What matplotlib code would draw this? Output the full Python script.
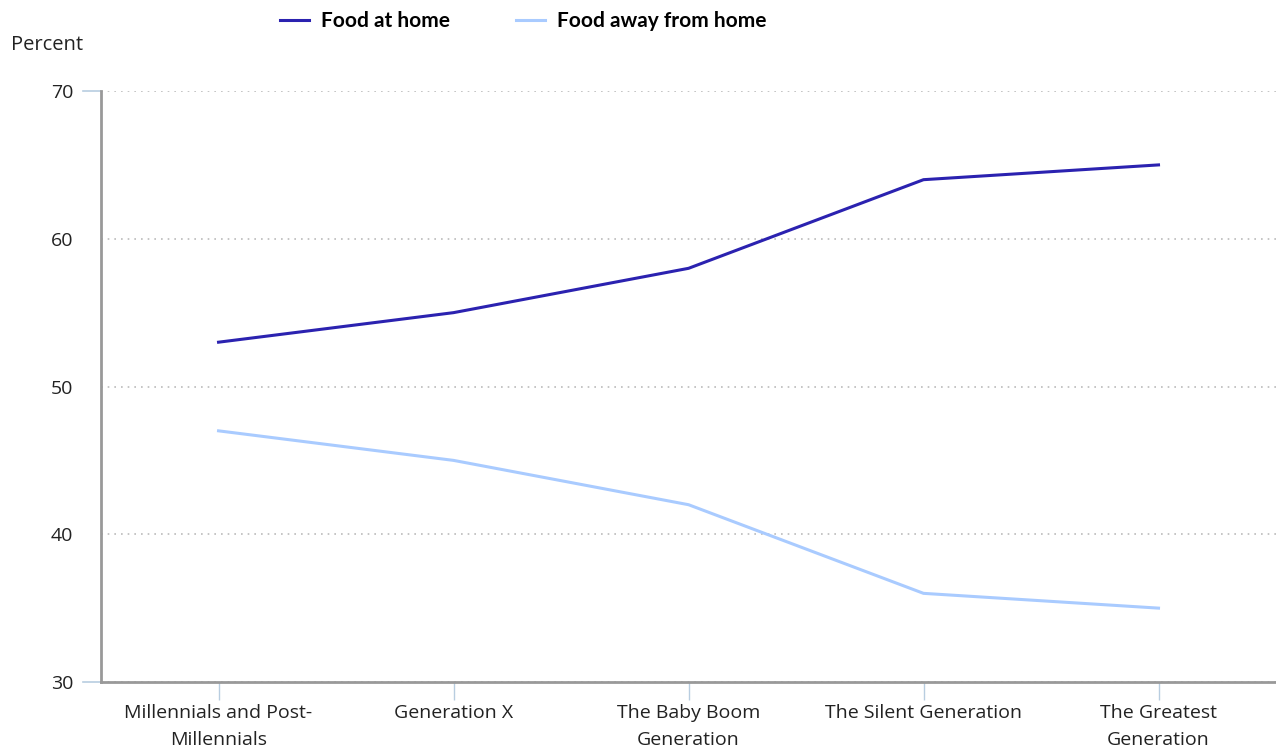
import numpy as np
from matplotlib import pyplot as plt

# Share of food spending by generation
generations = ['Millennials and Post-\nMillennials', 'Generation X', 'The Baby Boom\nGeneration',
               'The Silent Generation', 'The Greatest\nGeneration']
food_at_home = [53, 55, 58, 64, 65]
food_away = [47, 45, 42, 36, 35]

plt.rcParams['font.family'] = ['Open Sans', 'DejaVu Sans']

fig = plt.figure(figsize=(12.76, 7.53), dpi=100)
ax = fig.add_axes([0.0792, 0.0943, 0.9208, 0.7848])

x = np.arange(len(generations))
ax.plot(x, food_at_home, color='#2b22b0', linewidth=2.2, label='Food at home')
ax.plot(x, food_away, color='#a9cbff', linewidth=2.2, label='Food away from home')

ax.set_xlim(-0.5, len(generations) - 0.5)
ax.set_ylim(30, 70)
ax.set_yticks([30, 40, 50, 60, 70])
ax.set_xticks(x)
ax.set_xticklabels(generations, fontsize=14, color='#222222', linespacing=1.65)
ax.tick_params(axis='y', labelsize=14, colors='#222222', length=0, pad=20)
ax.tick_params(axis='x', length=13, color='#b8cde0', width=1, pad=3)

ax.yaxis.grid(True, linestyle=(0, (1, 3)), color='#bbbbbb', linewidth=1.2)
ax.set_axisbelow(True)
for side in ['top', 'right']:
    ax.spines[side].set_visible(False)
for side in ['left', 'bottom']:
    ax.spines[side].set_color('#999999')
    ax.spines[side].set_linewidth(2)

# small light-blue stubs left of the y axis at the ends
for yv in [30, 70]:
    ax.plot([-0.578, -0.505], [yv, yv], color='#b8cde0', linewidth=1.2, clip_on=False)

fig.text(0.009, 0.94, 'Percent', fontsize=14.5, color='#222222', va='center')

leg = fig.legend(loc='upper center', bbox_to_anchor=(0.41, 1.01), ncol=2, frameon=False,
                 prop={'family': 'Lato', 'weight': 'bold', 'size': 15},
                 handlelength=1.4, handletextpad=0.55, columnspacing=3.2)

plt.savefig('out.png', dpi=100)
